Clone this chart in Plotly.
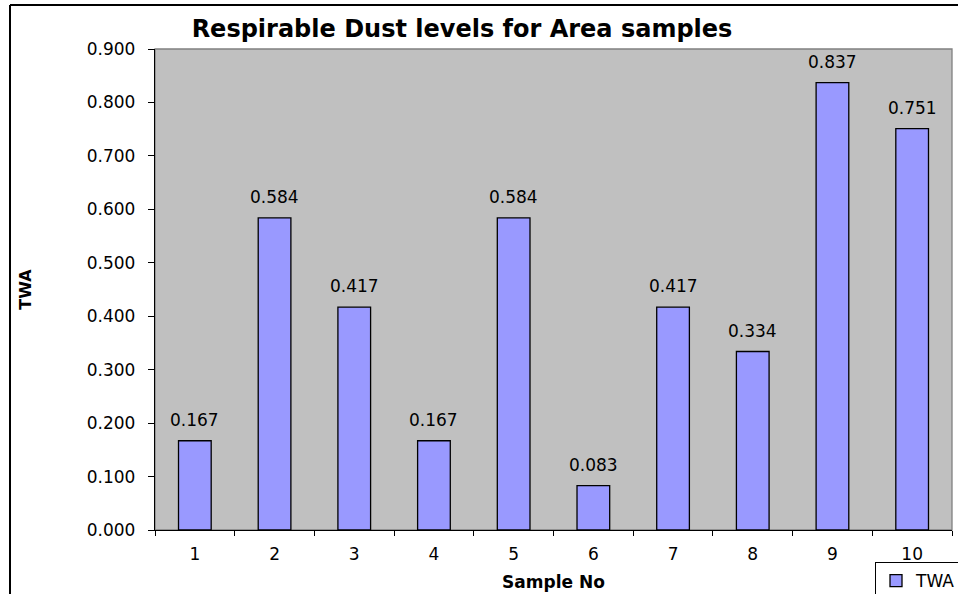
import plotly.graph_objects as go

categories = ["1", "2", "3", "4", "5", "6", "7", "8", "9", "10"]
twa = [0.167, 0.584, 0.417, 0.167, 0.584, 0.083, 0.417, 0.334, 0.837, 0.751]
y_ticks = [0.0, 0.1, 0.2, 0.3, 0.4, 0.5, 0.6, 0.7, 0.8, 0.9]

W, H = 958, 594
L, R, T, B = 155, 6, 49, 64
pw, ph = W - L - R, H - T - B

FONT = "DejaVu Sans, Liberation Sans, Arial, sans-serif"

fig = go.Figure()
fig.add_trace(go.Bar(
    x=categories, y=twa, name="TWA",
    marker=dict(color="#9999FF", line=dict(color="black", width=1.3)),
    width=0.41,
))

for i, v in enumerate(twa):
    fig.add_annotation(x=i, y=v, text=f"{v:.3f}", showarrow=False,
                       yanchor="bottom", yshift=9,
                       font=dict(family=FONT, size=17, color="black"))

# plot area border (grey)
fig.add_shape(type="rect", xref="paper", yref="paper", x0=0, x1=1, y0=0, y1=1,
              line=dict(color="#808080", width=1.3), layer="below")
# chart outer border (top and left visible)
bx = (10 - L) / pw
by = 1 + (T - 5) / ph
fig.add_shape(type="line", xref="paper", yref="paper", x0=bx, x1=1.2, y0=by, y1=by,
              line=dict(color="black", width=2))
fig.add_shape(type="line", xref="paper", yref="paper", x0=bx, x1=bx, y0=by, y1=-0.3,
              line=dict(color="black", width=2))

fig.update_layout(
    width=W, height=H,
    margin=dict(l=L, r=R, t=T, b=B, autoexpand=False),
    paper_bgcolor="white", plot_bgcolor="#C0C0C0",
    font=dict(family=FONT, size=17, color="black"),
    title=dict(text="<b>Respirable Dust levels for Area samples</b>",
               x=462 / W, xref="container", xanchor="center",
               y=1 - 29 / H, yref="container", yanchor="middle",
               font=dict(family=FONT, size=24, color="black")),
    showlegend=True,
    legend=dict(x=(875 - L) / pw, y=(H - B - 562) / ph, xanchor="left", yanchor="top",
                bordercolor="black", borderwidth=1, bgcolor="white",
                font=dict(family=FONT, size=17, color="black"),
                itemwidth=30, tracegroupgap=0),
    bargap=0.59,
    xaxis=dict(type="category", tickson="boundaries", range=[-0.5, 9.5],
               ticks="outside", ticklen=5,
               tickcolor="black", showline=True, linecolor="black", linewidth=1.3,
               showgrid=False, zeroline=False,
               tickfont=dict(family=FONT, size=17, color="black"),
               ticklabelstandoff=8,
               title=dict(text="<b>Sample No</b>", standoff=13,
                          font=dict(family=FONT, size=17, color="black"))),
    yaxis=dict(range=[0, 0.9], tickvals=y_ticks, tickformat=".3f",
               ticks="outside", ticklen=6, tickcolor="black",
               showline=True, linecolor="black", linewidth=1.3,
               showgrid=False, zeroline=False,
               tickfont=dict(family=FONT, size=17, color="black"),
               ticklabelstandoff=9,
               title=dict(text="<b>TWA</b>", standoff=51,
                          font=dict(family=FONT, size=16, color="black"))),
)

fig.write_html("out.html", config={"displayModeBar": False},
               post_script="document.body.style.margin='0';document.body.style.padding='0';")
